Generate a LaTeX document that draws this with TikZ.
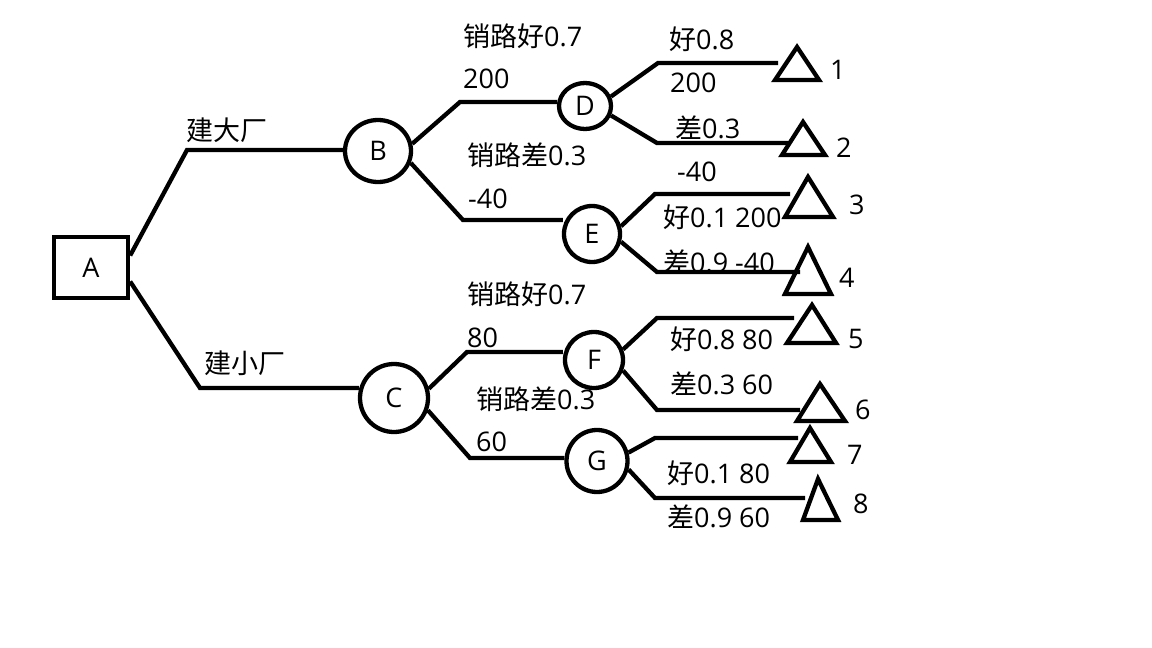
\documentclass[tikz,border=0pt]{standalone}
\usepackage{fontspec}
\setmainfont{Open Sans}
\newfontfamily\cjk{Noto Sans CJK SC}
\usetikzlibrary{shapes.geometric}
\begin{document}
\begin{tikzpicture}[x=1pt,y=-1pt,line width=4.3pt,line join=miter,
  txt/.style={font=\fontsize{27}{29}\selectfont,inner sep=0pt,anchor=west},
  chance/.style={ellipse,draw,inner sep=0pt,font=\fontsize{27}{29}\selectfont},
  decision/.style={rectangle,draw,inner sep=0pt,minimum width=74pt,minimum height=61pt,font=\fontsize{27}{29}\selectfont},
  branch/.style={line width=4.3pt},
  leaf/.style={line width=4.3pt,line join=miter}]
\useasboundingbox (0,0) rectangle (1152,648);
\fill[white] (0,0) rectangle (1152,648);
% nodes
\node[decision] (A) at (91,267.5) {A};
\node[chance,minimum width=66pt,minimum height=62pt] (B) at (378,151) {B};
\node[chance,minimum width=68pt,minimum height=68pt] (C) at (394,398) {C};
\node[chance,minimum width=52pt,minimum height=46pt] (D) at (585,106) {D};
\node[chance,minimum width=56pt,minimum height=56pt] (E) at (592,234) {E};
\node[chance,minimum width=58pt,minimum height=56pt] (F) at (594,360) {F};
\node[chance,minimum width=61pt,minimum height=62pt] (G) at (597,461) {G};
% bend coordinates
\coordinate (ab) at (187,150);
\coordinate (ac) at (200,388);
\coordinate (bd) at (460,102);
\coordinate (be) at (463,220);
\coordinate (cf) at (467,352);
\coordinate (cg) at (470,458);
\coordinate (d1b) at (658,63);  \coordinate (d1e) at (778,63);
\coordinate (d2b) at (657,143); \coordinate (d2e) at (788,143);
\coordinate (e3b) at (655,194); \coordinate (e3e) at (790,194);
\coordinate (e4b) at (657,272); \coordinate (e4e) at (800,272);
\coordinate (f5b) at (657,318); \coordinate (f5e) at (794,318);
\coordinate (f6b) at (657,410); \coordinate (f6e) at (800,410);
\coordinate (g7b) at (655,438); \coordinate (g7e) at (798,438);
\coordinate (g8b) at (655,498); \coordinate (g8e) at (805,498);
% connectors
\draw[branch] ([yshift=12pt]A.east) -- (ab) -- (ab -| B.west);
\draw[branch] ([yshift=-14pt]A.east) -- (ac) -- ([xshift=1pt]ac -| C.west);
\draw[branch] (B.12) -- (bd) -- (bd -| D.west);
\draw[branch] (B.-20) -- (be) -- ([xshift=1pt]be -| E.west);
\draw[branch] (C.15) -- (cf) -- (cf -| F.west);
\draw[branch] (C.-20) -- (cg) -- (cg -| G.west);
\draw[branch] (D.20) -- (d1b) -- (d1e);
\draw[branch] (D.-20) -- (d2b) -- (d2e);
\draw[branch] (E.15) -- (e3b) -- (e3e);
\draw[branch] (E.-15) -- (e4b) -- (e4e);
\draw[branch] (F.20) -- (f5b) -- (f5e);
\draw[branch] (F.-20) -- (f6b) -- (f6e);
\draw[branch] (G.15) -- (g7b) -- (g7e);
\draw[branch] (G.-15) -- (g8b) -- (g8e);
% terminal triangles
\draw[leaf] (775,80) -- (797,47) -- (819,80) -- cycle;
\draw[leaf] (782,155) -- (803,122) -- (825,155) -- cycle;
\draw[leaf] (785,217) -- (808,177) -- (833,217) -- cycle;
\draw[leaf] (785,294) -- (808,247) -- (831,294) -- cycle;
\draw[leaf] (787,343) -- (812,305) -- (836,343) -- cycle;
\draw[leaf] (797,421) -- (820,384) -- (845,421) -- cycle;
\draw[leaf] (790,462) -- (810,428) -- (831,462) -- cycle;
\draw[leaf] (803,520) -- (818,479) -- (838,520) -- cycle;
% terminal numbers
\node[txt] (n1) at (828,70) {1};
\node[txt] (n2) at (834,148) {2};
\node[txt] (n3) at (847,205) {3};
\node[txt] (n4) at (837,278) {4};
\node[txt] (n5) at (846,339) {5};
\node[txt] (n6) at (853,410) {6};
\node[txt] (n7) at (845,455) {7};
\node[txt] (n8) at (851,504) {8};
% branch labels
\node[txt] (t1) at (184,130) {\cjk 建大厂};
\node[txt] (t2) at (202,363) {\cjk 建小厂};
\node[txt] (t3) at (461,36) {{\cjk 销路好}0.7};
\node[txt] (t4) at (461,79) {200};
\node[txt] (t5) at (465,155) {{\cjk 销路差}0.3};
\node[txt] (t6) at (466,199) {-40};
\node[txt] (t7) at (667,39) {{\cjk 好}0.8};
\node[txt] (t8) at (668,83) {200};
\node[txt] (t9) at (673,128) {{\cjk 差}0.3};
\node[txt] (t10) at (675,172) {-40};
\node[txt] (t11) at (661,217) {{\cjk 好}0.1 200};
\node[txt] (t12) at (661,262) {{\cjk 差}0.9 -40};
\node[txt] (t13) at (465,294) {{\cjk 销路好}0.7};
\node[txt] (t14) at (465,338) {80};
\node[txt] (t15) at (474,399) {{\cjk 销路差}0.3};
\node[txt] (t16) at (474,442) {60};
\node[txt] (t17) at (668,339) {{\cjk 好}0.8 80};
\node[txt] (t18) at (668,384) {{\cjk 差}0.3 60};
\node[txt] (t19) at (665,473) {{\cjk 好}0.1 80};
\node[txt] (t20) at (665,517) {{\cjk 差}0.9 60};
\end{tikzpicture}
\end{document}
